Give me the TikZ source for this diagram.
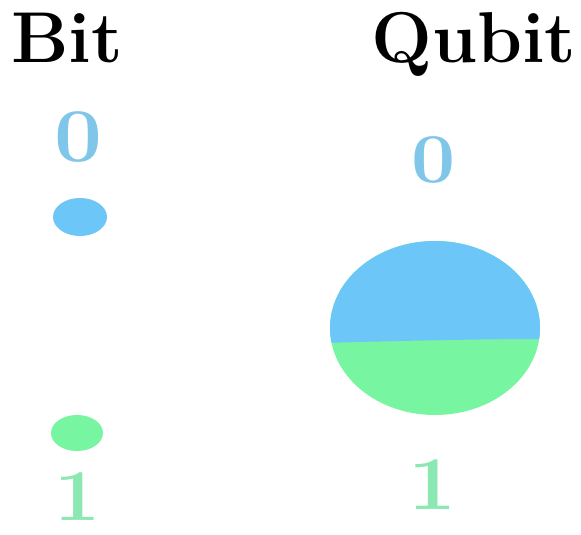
\documentclass[tikz,border=0pt]{standalone}
\definecolor{bitblue}{HTML}{6CC6F7}
\definecolor{bitgreen}{HTML}{78F5A0}
\definecolor{digblue}{HTML}{80C6E8}
\definecolor{diggreen}{HTML}{8CE8B2}
\tikzset{
  title/.style={inner sep=0pt, anchor=base, font=\fontsize{72}{74}\selectfont\bfseries, text=black},
  digit/.style={inner sep=0pt, anchor=base, xscale=1.12},
}
\begin{document}
\begin{tikzpicture}[x=1pt,y=-1pt]
\useasboundingbox (0,0) rectangle (581,535);
\fill[white] (0,0) rectangle (581,535);
% titles
\node[title] (bit) at (67,63) {Bit};
\node[title] (qubit) at (474,63) {Qubit};
% bit column
\node[digit, text=digblue, font=\fontsize{76}{78}\selectfont\bfseries] (bit0) at (78,161) {0};
\fill[bitblue] (80,217) ellipse [x radius=27, y radius=19];
\fill[bitgreen] (77,433) ellipse [x radius=26, y radius=18];
\node[digit, text=diggreen, font=\fontsize{73}{75}\selectfont\bfseries] (bit1) at (78,520) {1};
% qubit column
\node[digit, text=digblue, font=\fontsize{70}{72}\selectfont\bfseries] (qubit0) at (434,182) {0};
\fill[bitgreen] (435,328) ellipse [x radius=105, y radius=87];
\begin{scope}
  \clip (320,230) -- (550,230) -- (550,339) .. controls (470,339) and (400,341) .. (320,343) -- cycle;
  \fill[bitblue] (435,328) ellipse [x radius=105, y radius=87];
\end{scope}
\node[digit, text=diggreen, font=\fontsize{76}{78}\selectfont\bfseries] (qubit1) at (432,509) {1};
\end{tikzpicture}
\end{document}
